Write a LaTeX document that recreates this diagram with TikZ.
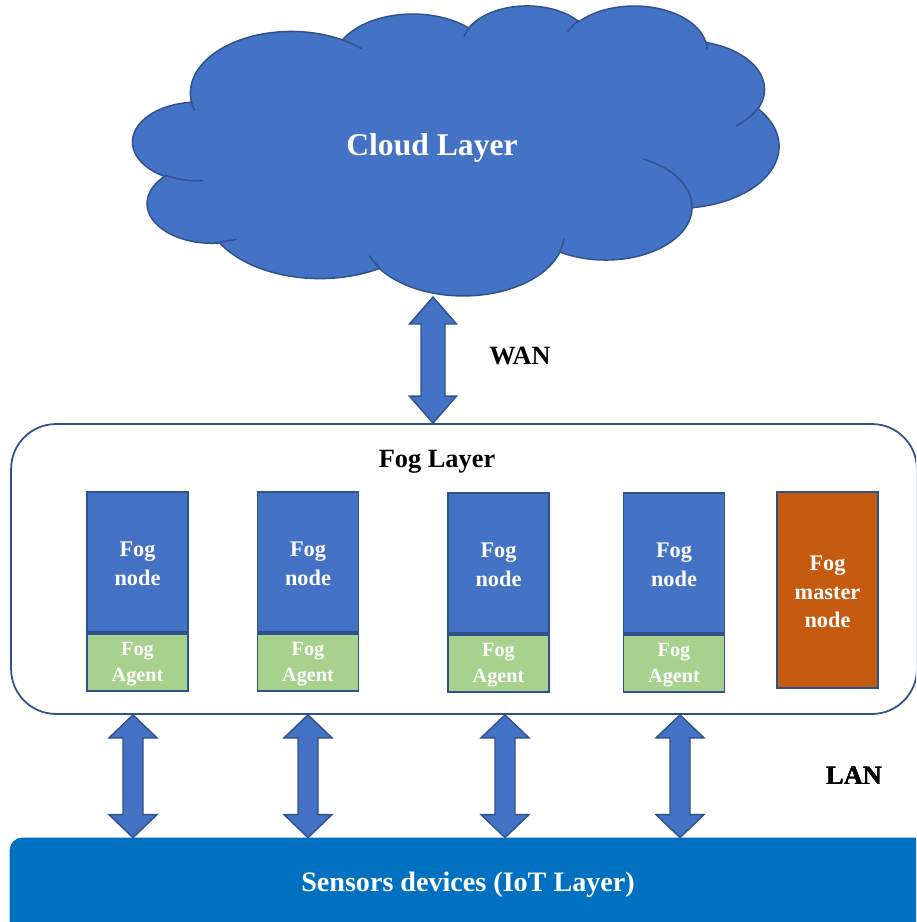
\documentclass[tikz,border=0pt]{standalone}
\usepackage{fontspec}
\setmainfont{Liberation Serif}
\usetikzlibrary{positioning,calc}
\definecolor{nodeblue}{HTML}{4472C4}
\definecolor{edgeblue}{HTML}{2F528F}
\definecolor{agentgreen}{HTML}{A9D18E}
\definecolor{masterorange}{HTML}{C55A11}
\definecolor{iotblue}{HTML}{0070C0}
% block arrow between two points: top, bottom, half head, half shaft, head length
\newcommand{\linkarrow}[5]{%
  \draw[linkarrow] (#1) -- ++(#3,#5) -- ++(-#3+#4,0) -- ($(#2)+(#4,-#5)$)
    -- ++(#3-#4,0) -- (#2) -- ++(-#3,-#5) -- ++(#3-#4,0)
    -- ($(#1)+(-#4,#5)$) -- ++(-#3+#4,0) -- cycle;}
% angle on the ellipse -> parameter of the arc
\pgfmathdeclarefunction{cpar}{3}{%
  \pgfmathparse{atan2(#2*sin(#1), #3*cos(#1))}}
% one puff of the cloud: x radius, y radius, start angle, sweep
\newcommand{\cloudarc}[4]{%
  arc[x radius=#1, y radius=#2, start angle={cpar(#3,#1,#2)},
    end angle={cpar(#3,#1,#2)+mod(cpar(#3+#4,#1,#2)-cpar(#3,#1,#2)+720,360)}]}

\begin{document}
\begin{tikzpicture}[x=0.02cm, y=-0.02cm,
  fognode/.style={rectangle, draw=edgeblue, line width=1pt, fill=nodeblue,
    minimum width=2.02cm, minimum height=2.8cm, inner sep=0pt, align=center,
    text=white, font=\bfseries\fontsize{12.7}{16.4}\selectfont, text height=26.5pt},
  fogagent/.style={rectangle, draw=edgeblue, line width=1pt, fill=agentgreen,
    minimum width=2.02cm, minimum height=1.14cm, inner sep=0pt, align=center,
    text=white, font=\bfseries\fontsize{11.5}{14.7}\selectfont, text height=24.6pt},
  linkarrow/.style={draw=edgeblue, line width=0.8pt, fill=nodeblue, line join=miter},
  cloudline/.style={draw=edgeblue, line width=0.85pt},
  layertext/.style={font=\bfseries\fontsize{15}{18}\selectfont}]
  \clip (0,0) rectangle (916,922);

  % cloud
  \begin{scope}[shift={(133,5)}, x=0.0029861cm, y=-0.0013472cm]
    \draw[cloudline, fill=nodeblue] (390,1437)
      \cloudarc{675.3}{919.0}{-190.4875}{123.7805}
      \cloudarc{533.3}{726.7}{-144.1024}{89.9452}
      \cloudarc{436.5}{594.5}{-145.8079}{99.7230}
      \cloudarc{485.7}{659.5}{-130.9861}{117.2417}
      \cloudarc{533.3}{727.3}{-78.7089}{109.0269}
      \cloudarc{677.5}{922.0}{-46.2673}{130.2690}
      \cloudarc{578.5}{786.7}{0.6250}{114.0333}
      \cloudarc{675.2}{921.5}{22.4516}{115.1726}
      \cloudarc{772.0}{1054.3}{66.2426}{75.7110}
      \cloudarc{436.0}{591.8}{-274.9421}{146.7356}
      \cloudarc{434.5}{594.5}{-246.8285}{152.5189} -- cycle;
    \draw[cloudline]
      (469.3,2617.7) \cloudarc{434.5}{594.5}{86.7420}{26.4295}
      (692.8,3489.9) \cloudarc{436.0}{591.8}{73.6105}{11.4475}
      (1647.8,3909.0) \cloudarc{675.2}{921.5}{137.6241}{14.0811}
      (2882.7,3475.1) \cloudarc{675.2}{921.5}{6.4533}{15.9984}
      (3412.9,2295.4) \cloudarc{578.5}{786.7}{-70.2924}{70.9174}
      (4179.8,1535.4) \cloudarc{533.3}{727.3}{30.3180}{27.7515}
      (3832.4,542.6) \cloudarc{485.7}{659.5}{-13.7443}{14.8589}
      (2907.8,395.2) \cloudarc{485.7}{659.5}{-149.1815}{18.1954}
      (2214.1,472.0) \cloudarc{436.5}{594.5}{-163.4943}{17.6864}
      (1400.0,519.2) \cloudarc{675.3}{919.0}{-66.7070}{12.3194}
      (412.7,1578.9) \cloudarc{675.3}{919.0}{157.6544}{11.8582};
  \end{scope}
  \node[text=white, font=\bfseries\fontsize{18}{22}\selectfont] (cloudtxt) at (432,148) {Cloud Layer};

  % fog layer
  \node[draw=edgeblue, line width=1pt, rounded corners=0.9cm, minimum width=18.12cm,
    minimum height=5.8cm] (fog) at (464,569) {};
  \node[layertext] (fogtxt) at (437,462) {Fog Layer};

  \node[fognode] (fn1) at (137.5,562) {Fog\\node};
  \node[fogagent, below=0pt of fn1] (fa1) {Fog\\Agent};
  \node[fognode] (fn2) at (308,562) {Fog\\node};
  \node[fogagent, below=0pt of fn2] (fa2) {Fog\\Agent};
  \node[fognode] (fn3) at (498.5,563) {Fog\\node};
  \node[fogagent, below=0pt of fn3] (fa3) {Fog\\Agent};
  \node[fognode] (fn4) at (674,563) {Fog\\node};
  \node[fogagent, below=0pt of fn4] (fa4) {Fog\\Agent};
  \node[fognode, fill=masterorange, minimum height=3.92cm, text height=43pt,
    font=\bfseries\fontsize{12.7}{16.2}\selectfont] (master) at (827.5,590) {Fog\\master\\node};

  % iot layer
  \node[draw=iotblue, fill=iotblue, rounded corners=0.24cm, minimum width=18.4cm,
    minimum height=2cm] (iot) at (470,888) {};
  \node[text=white, font=\bfseries\fontsize{16}{19}\selectfont] (iottxt) at (468,885)
    {Sensors devices (IoT Layer)};

  % links
  \coordinate (wantop) at (433,297);
  \linkarrow{wantop}{433,0 |- fog.north}{23.5}{12}{27}
  \node[layertext] (wan) at (520,356) {WAN};
  \foreach \lx in {133,308,505,680}
    \linkarrow{\lx,0 |- fog.south}{\lx,0 |- iot.north}{24}{10}{23}
  \node[layertext] (lan) at (854,776) {LAN};
\end{tikzpicture}
\end{document}
